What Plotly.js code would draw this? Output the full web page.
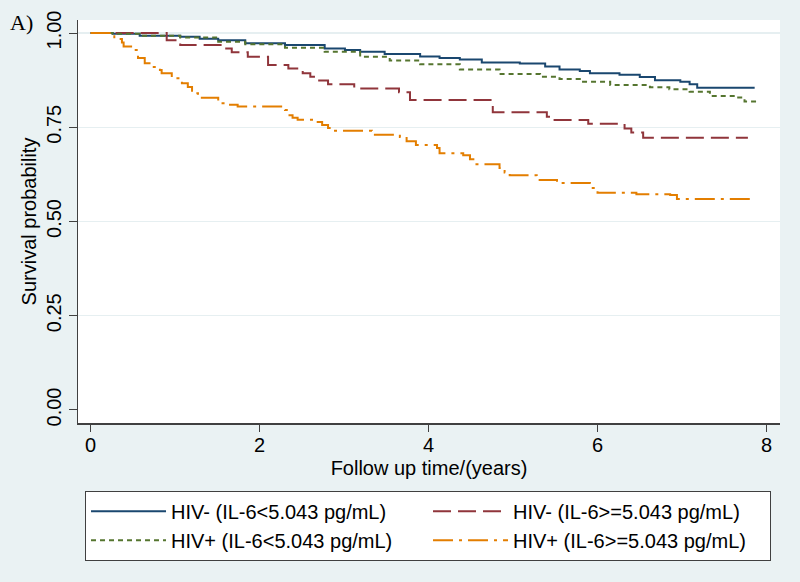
<!DOCTYPE html>
<html>
<head>
<meta charset="utf-8">
<script src="https://cdn.plot.ly/plotly-3.0.1.min.js"></script>
<style>
html,body{margin:0;padding:0;background:#EAF2F3;}
#chart{width:800px;height:582px;}
</style>
</head>
<body>
<div id="chart"></div>
<script>
// Kaplan-Meier step data (time in years, survival probability)
const seriesNames = [
  "HIV- (IL-6<5.043 pg/mL)",
  "HIV- (IL-6>=5.043 pg/mL)",
  "HIV+ (IL-6<5.043 pg/mL)",
  "HIV+ (IL-6>=5.043 pg/mL)"
];

const hivNegLowT = [0, 0.26, 0.58, 1.06, 1.29, 1.51, 1.83, 2.30, 2.77, 3.01, 3.19, 3.48, 3.90, 4.13, 4.37, 4.63, 5.08, 5.38, 5.55, 5.79, 5.91, 6.26, 6.50, 6.68, 6.98, 7.09, 7.18, 7.86];
const hivNegLowS = [1.0, 0.998, 0.993, 0.990, 0.985, 0.981, 0.973, 0.968, 0.959, 0.955, 0.950, 0.944, 0.938, 0.934, 0.930, 0.922, 0.919, 0.911, 0.903, 0.899, 0.893, 0.889, 0.883, 0.875, 0.871, 0.864, 0.855, 0.855];

const hivNegHighT = [0, 0.90, 1.06, 1.55, 1.67, 1.86, 2.10, 2.34, 2.51, 2.60, 2.69, 2.81, 3.12, 3.65, 3.78, 4.76, 5.40, 5.46, 5.89, 6.32, 6.40, 6.54, 7.78];
const hivNegHighS = [1.0, 0.981, 0.968, 0.959, 0.949, 0.937, 0.915, 0.906, 0.893, 0.884, 0.874, 0.864, 0.853, 0.843, 0.822, 0.790, 0.778, 0.769, 0.759, 0.747, 0.736, 0.722, 0.722];

const hivPosLowT = [0, 0.26, 0.58, 1.06, 1.51, 1.83, 2.30, 2.77, 3.19, 3.54, 3.90, 4.37, 4.84, 5.32, 5.55, 5.79, 6.15, 6.62, 6.85, 7.09, 7.33, 7.63, 7.74, 7.90];
const hivPosLowS = [1.0, 0.998, 0.993, 0.988, 0.977, 0.970, 0.961, 0.950, 0.937, 0.927, 0.917, 0.903, 0.891, 0.884, 0.878, 0.871, 0.862, 0.856, 0.851, 0.844, 0.833, 0.829, 0.818, 0.818];

const hivPosHighT = [0, 0.28, 0.37, 0.39, 0.52, 0.56, 0.64, 0.73, 0.82, 0.84, 0.96, 1.08, 1.15, 1.20, 1.27, 1.51, 1.59, 1.74, 2.30, 2.34, 2.39, 2.45, 2.62, 2.74, 2.81, 2.87, 3.33, 3.66, 3.74, 3.85, 4.10, 4.13, 4.41, 4.49, 4.53, 4.84, 4.90, 4.96, 5.28, 5.52, 5.91, 6.00, 6.46, 6.86, 6.94, 7.82];
const hivPosHighS = [1.0, 0.984, 0.975, 0.964, 0.955, 0.934, 0.920, 0.910, 0.902, 0.893, 0.880, 0.867, 0.857, 0.840, 0.828, 0.814, 0.810, 0.805, 0.796, 0.782, 0.775, 0.770, 0.764, 0.756, 0.748, 0.741, 0.730, 0.724, 0.713, 0.703, 0.695, 0.681, 0.676, 0.665, 0.652, 0.642, 0.630, 0.623, 0.610, 0.602, 0.589, 0.576, 0.572, 0.570, 0.560, 0.560];

const xTicks = [0, 2, 4, 6, 8];
const yTicks = [0, 0.25, 0.5, 0.75, 1];
const yTickText = ["0.00", "0.25", "0.50", "0.75", "1.00"];
const yGrid = [0.25, 0.5, 0.75, 1];

const colors = ["#1A476F", "#90353B", "#55752F", "#E37E00"];
const dashes = ["solid", "18px,7px", "5px,4px", "20px,6px,3px,6px"];
const xs = [hivNegLowT, hivNegHighT, hivPosLowT, hivPosHighT];
const ys = [hivNegLowS, hivNegHighS, hivPosLowS, hivPosHighS];

const traces = xs.map((x, i) => ({
  x: x, y: ys[i], name: seriesNames[i], type: "scatter", mode: "lines",
  line: {shape: "hv", color: colors[i], width: 2, dash: dashes[i]},
  hoverinfo: "skip"
}));
// invisible helper trace on the grid axis
traces.push({x: [0], y: [0], yaxis: "y2", mode: "markers", marker: {opacity: 0}, showlegend: false, hoverinfo: "skip"});

const font = "Liberation Sans, Arial, sans-serif";
const layout = {
  width: 800, height: 582,
  paper_bgcolor: "#EAF2F3", plot_bgcolor: "#FFFFFF",
  margin: {l: 78, r: 20, t: 20, b: 159, pad: 0, autoexpand: false},
  showlegend: true,
  font: {family: font, size: 20, color: "#000"},
  xaxis: {
    range: [-0.15, 8.16], tickvals: xTicks, ticktext: xTicks.map(String),
    ticks: "outside", ticklen: 7, tickcolor: "#404040", tickwidth: 1,
    ticklabelstandoff: -4,
    showline: true, linecolor: "#404040", linewidth: 1.5, showgrid: false, zeroline: false,
    tickfont: {family: font, size: 20, color: "#000"},
    title: {text: "Follow up time/(years)", font: {family: font, size: 20, color: "#000"}, standoff: 6}
  },
  yaxis: {
    range: [-0.0345, 1.0345], tickvals: yTicks, ticktext: yTickText, tickangle: -90,
    ticks: "outside", ticklen: 8, tickcolor: "#404040", tickwidth: 1,
    showline: true, linecolor: "#404040", linewidth: 1.5, showgrid: false, zeroline: false,
    tickfont: {family: font, size: 20, color: "#000"},
    title: {text: "Survival probability", font: {family: font, size: 20, color: "#000"}, standoff: 0}
  },
  yaxis2: {
    overlaying: "y", matches: "y", tickvals: yGrid, showticklabels: false, ticks: "",
    showgrid: true, gridcolor: "#E6EFF1", gridwidth: 1.2, zeroline: false, showline: false
  },
  legend: {
    orientation: "h", x: 0.01, xanchor: "left", y: -0.168, yanchor: "top",
    bgcolor: "#FFFFFF", bordercolor: "#404040", borderwidth: 1,
    font: {family: font, size: 20, color: "#000"},
    entrywidth: 252, entrywidthmode: "pixels", itemwidth: 75,
    tracegroupgap: 0, traceorder: "normal"
  },
  annotations: [{
    text: "A)", xref: "paper", yref: "paper", x: -0.1, y: 0.995,
    xanchor: "left", yanchor: "middle", showarrow: false,
    font: {family: "Liberation Serif, Times New Roman, serif", size: 22, color: "#000"}
  }]
};

Plotly.newPlot("chart", traces, layout, {displayModeBar: false, staticPlot: true});
</script>
</body>
</html>
